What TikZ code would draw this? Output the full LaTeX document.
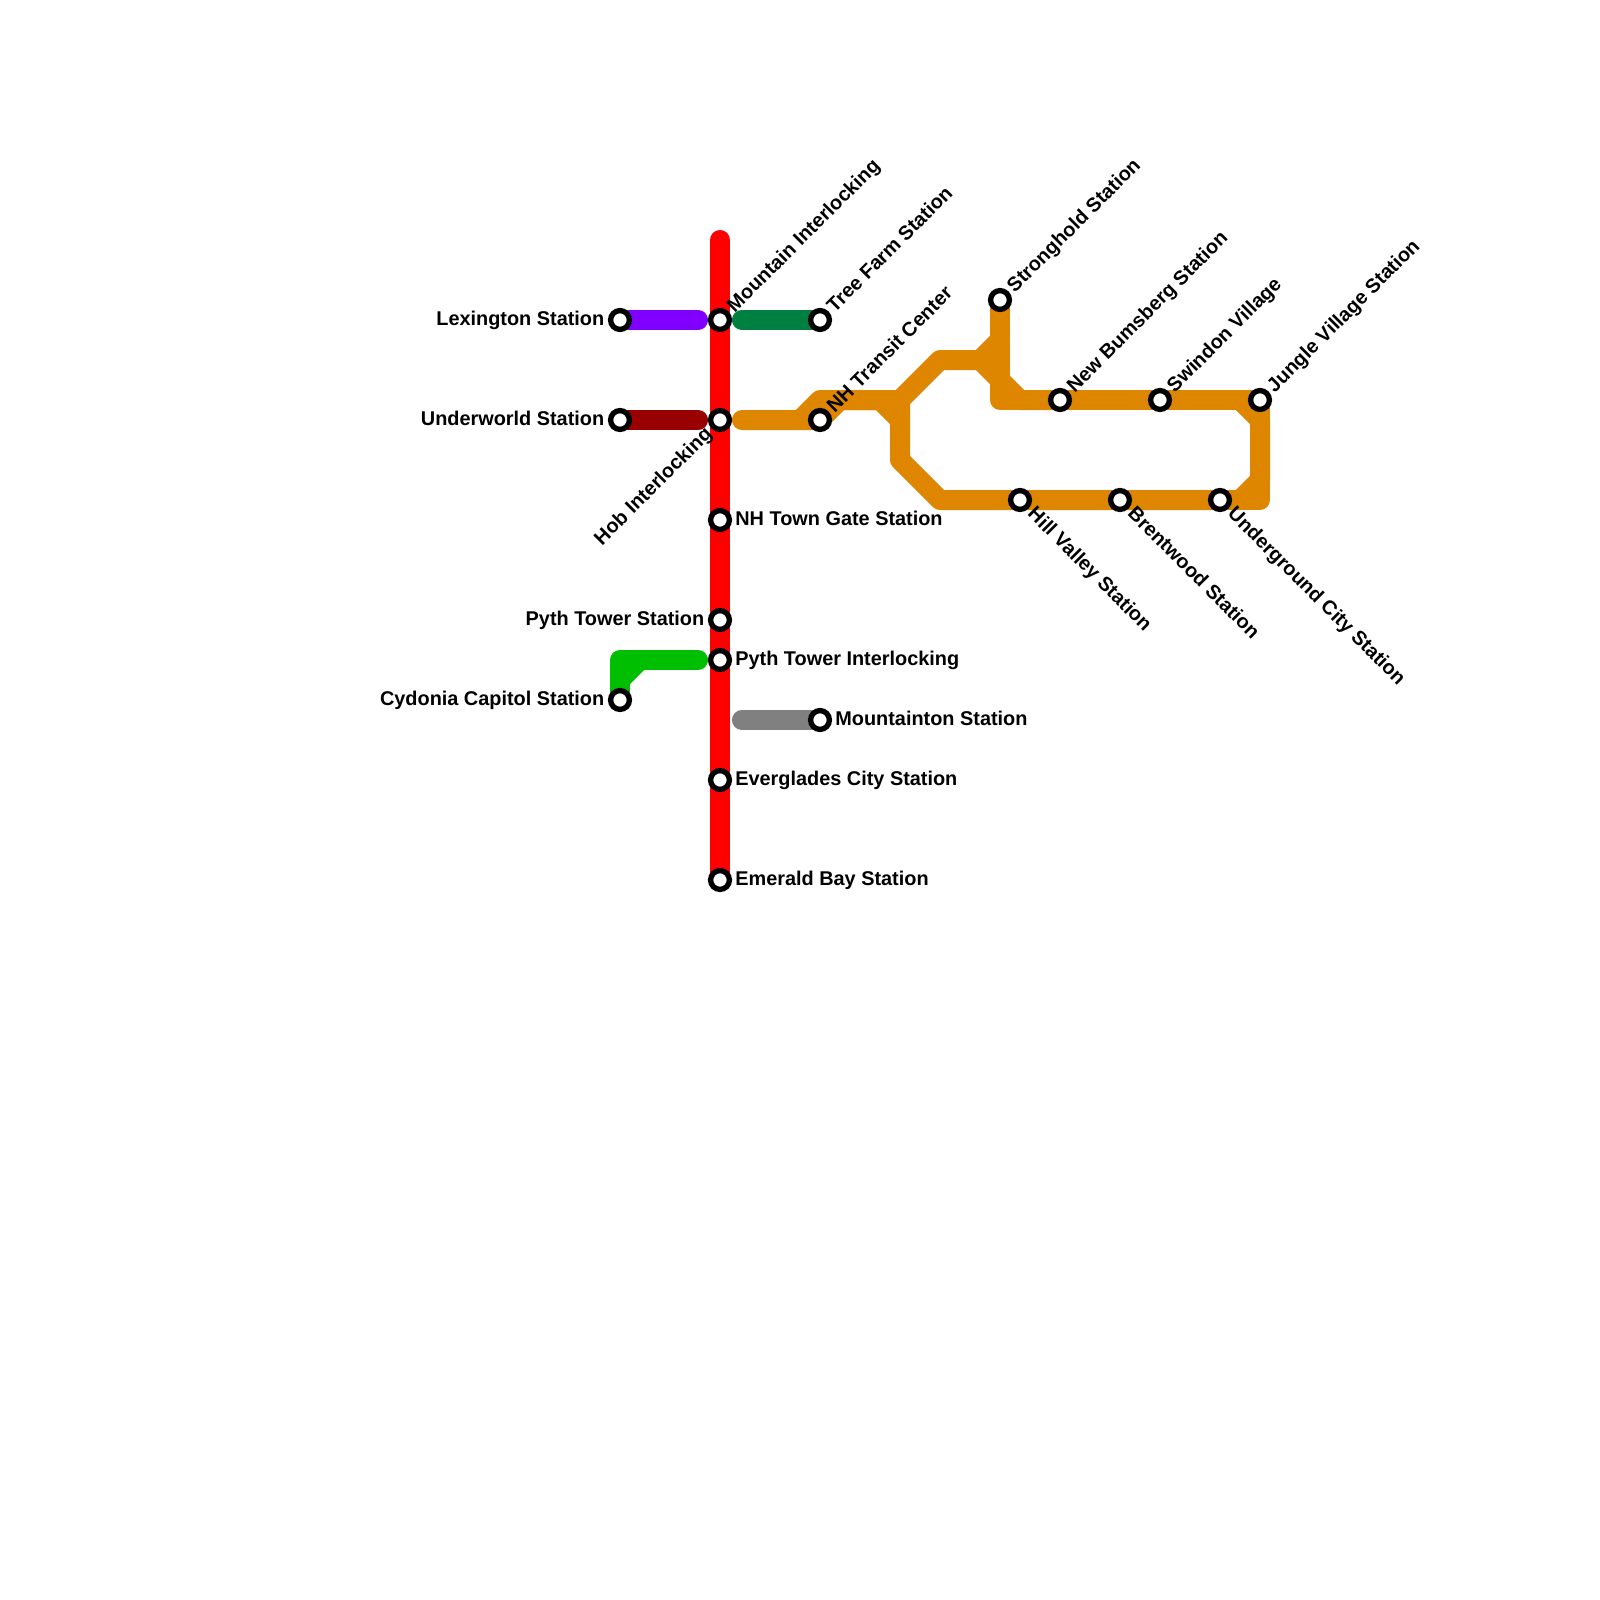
\documentclass[tikz,border=0pt]{standalone}
\usepackage{fontspec}
\setmainfont{Liberation Sans}
\usetikzlibrary{backgrounds}
\definecolor{linered}{HTML}{FF0000}
\definecolor{linepurple}{HTML}{8000FF}
\definecolor{linemaroon}{HTML}{990000}
\definecolor{lineforest}{HTML}{008040}
\definecolor{lineorange}{HTML}{DF8600}
\definecolor{linegreen}{HTML}{00BF00}
\definecolor{linegray}{HTML}{808080}
\tikzset{
 stn/.style={circle,draw=black,fill=white,line width=1.9pt,minimum size=.235cm,inner sep=0pt,outer sep=0pt},
 lbl/.style={inner sep=0pt,font=\fontsize{7.07}{8.5}\selectfont\bfseries},
 lblr/.style={lbl,anchor=base west,xshift=.185cm,yshift=-.072cm},
 lbll/.style={lbl,anchor=base east,xshift=-.19cm,yshift=-.072cm},
 lblup/.style={rotate=45,lblr},
 lblhob/.style={rotate=45,lbll},
 lbldn/.style={rotate=-45,lblr},
 metro/.style={line width=7.11pt,line cap=round,line join=round},
 gapa/.style={shorten <=7.8pt},
 gapb/.style={shorten >=7.8pt}
}
\begin{document}
\begin{tikzpicture}[x=.25cm,y=-.25cm]
 \useasboundingbox (0,0) rectangle (80,80);
 \node[stn] (lexington) at (31,16) {};
 \node[stn] (underworld) at (31,21) {};
 \node[stn] (cydonia) at (31,35) {};
 \node[stn] (mountain) at (36,16) {};
 \node[stn] (hob) at (36,21) {};
 \node[stn] (towngate) at (36,26) {};
 \node[stn] (pythstation) at (36,31) {};
 \node[stn] (pythlock) at (36,33) {};
 \node[stn] (everglades) at (36,39) {};
 \node[stn] (emerald) at (36,44) {};
 \node[stn] (treefarm) at (41,16) {};
 \node[stn] (nhtransit) at (41,21) {};
 \node[stn] (mountainton) at (41,36) {};
 \node[stn] (stronghold) at (50,15) {};
 \node[stn] (bumsberg) at (53,20) {};
 \node[stn] (swindon) at (58,20) {};
 \node[stn] (jungle) at (63,20) {};
 \node[stn] (hillvalley) at (51,25) {};
 \node[stn] (brentwood) at (56,25) {};
 \node[stn] (underground) at (61,25) {};
 \coordinate (redtop) at (36,12);
 \begin{scope}[on background layer]
  \draw[metro,linepurple,gapb] (lexington.center)--(mountain.center);
  \draw[metro,linemaroon,gapb] (underworld.center)--(hob.center);
  \draw[metro,linegreen,gapb] (cydonia.center)--(31,33)--(pythlock.center);
  \draw[metro,linegreen] (31,34)--(32,33);
  \draw[metro,lineforest,gapa] (mountain.center)--(treefarm.center);
  \draw[metro,linegray,gapa] (36,36)--(mountainton.center);
  \draw[metro,lineorange,gapa] (hob.center)--(nhtransit.center)--(42,20)--(45,20);
  \draw[metro,lineorange] (40,21)--(41,20)--(45,20)--(47,18)--(49,18)--(51,20)--(bumsberg.center);
  \draw[metro,lineorange] (49,18)--(50,17);
  \draw[metro,lineorange] (stronghold.center)--(50,20)--(bumsberg.center)--(swindon.center)--(jungle.center)--(63,25)--(underground.center);
  \draw[metro,lineorange] (62,20)--(63,21)--(63,24)--(62,25);
  \draw[metro,lineorange] (44,20)--(45,21);
  \draw[metro,lineorange] (45,20)--(45,23)--(47,25)--(hillvalley.center)--(brentwood.center)--(underground.center);
  \draw[metro,linered] (redtop)--(emerald.center);
 \end{scope}
 \node[lbll] (lexingtonlbl) at (lexington) {Lexington Station};
 \node[lbll] (underworldlbl) at (underworld) {Underworld Station};
 \node[lbll] (cydonialbl) at (cydonia) {Cydonia Capitol Station};
 \node[lbll] (pythstationlbl) at (pythstation) {Pyth Tower Station};
 \node[lblr] (towngatelbl) at (towngate) {NH Town Gate Station};
 \node[lblr] (pythlocklbl) at (pythlock) {Pyth Tower Interlocking};
 \node[lblr] (mountaintonlbl) at (mountainton) {Mountainton Station};
 \node[lblr] (evergladeslbl) at (everglades) {Everglades City Station};
 \node[lblr] (emeraldlbl) at (emerald) {Emerald Bay Station};
 \node[lblhob] (hoblbl) at (hob) {Hob Interlocking};
 \node[lblup] (mountainlbl) at (mountain) {Mountain Interlocking};
 \node[lblup] (treefarmlbl) at (treefarm) {Tree Farm Station};
 \node[lblup] (nhtransitlbl) at (nhtransit) {NH Transit Center};
 \node[lblup] (strongholdlbl) at (stronghold) {Stronghold Station};
 \node[lblup] (bumsberglbl) at (bumsberg) {New Bumsberg Station};
 \node[lblup] (swindonlbl) at (swindon) {Swindon Village};
 \node[lblup] (junglelbl) at (jungle) {Jungle Village Station};
 \node[lbldn] (hillvalleylbl) at (hillvalley) {Hill Valley Station};
 \node[lbldn] (brentwoodlbl) at (brentwood) {Brentwood Station};
 \node[lbldn] (undergroundlbl) at (underground) {Underground City Station};
\end{tikzpicture}
\end{document}
